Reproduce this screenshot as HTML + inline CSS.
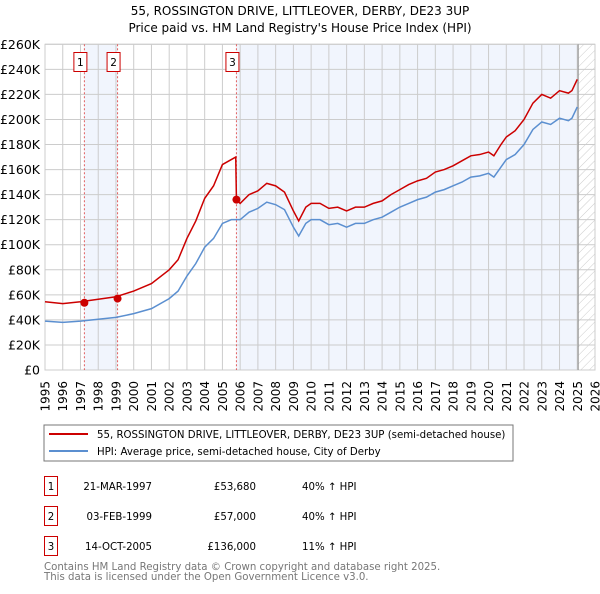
<!DOCTYPE html>
<html><head><meta charset="utf-8"><style>
body{margin:0;background:#fff;width:600px;height:590px;overflow:hidden;font-family:"DejaVu Sans","Liberation Sans",sans-serif}
text{font-family:"DejaVu Sans","Liberation Sans",sans-serif}
</style></head><body>
<svg id="c" width="600" height="590" xmlns="http://www.w3.org/2000/svg">
<defs><pattern id="hatch" width="6" height="6" patternUnits="userSpaceOnUse" patternTransform="rotate(45)"><line x1="0" y1="0" x2="0" y2="6" stroke="#ccc" stroke-width="1"/></pattern></defs>
<text x="300" y="15" text-anchor="middle" font-size="12">55, ROSSINGTON DRIVE, LITTLEOVER, DERBY, DE23 3UP</text>
<text x="300" y="32" text-anchor="middle" font-size="12">Price paid vs. HM Land Registry's House Price Index (HPI)</text>
<g id="plot"></g>
<rect x="44" y="425" width="469" height="36" fill="#fff" stroke="#777"/>
<line x1="49" y1="434" x2="88" y2="434" stroke="#cc0000" stroke-width="2"/>
<text x="97" y="438" font-size="10.2">55, ROSSINGTON DRIVE, LITTLEOVER, DERBY, DE23 3UP (semi-detached house)</text>
<line x1="49" y1="451" x2="88" y2="451" stroke="#5b8fd0" stroke-width="2"/>
<text x="97" y="455" font-size="10.2">HPI: Average price, semi-detached house, City of Derby</text>
<g font-size="10.2">
<rect x="44.5" y="476.5" width="13" height="19" fill="#fff" stroke="#cc0000"/><text x="51" y="490" text-anchor="middle">1</text>
<text x="152" y="490" text-anchor="end">21-MAR-1997</text><text x="256" y="490" text-anchor="end">£53,680</text><text x="302" y="490">40% ↑ HPI</text>
<rect x="44.5" y="506.5" width="13" height="19" fill="#fff" stroke="#cc0000"/><text x="51" y="520" text-anchor="middle">2</text>
<text x="152" y="520" text-anchor="end">03-FEB-1999</text><text x="256" y="520" text-anchor="end">£57,000</text><text x="302" y="520">40% ↑ HPI</text>
<rect x="44.5" y="536.5" width="13" height="19" fill="#fff" stroke="#cc0000"/><text x="51" y="550" text-anchor="middle">3</text>
<text x="152" y="550" text-anchor="end">14-OCT-2005</text><text x="256" y="550" text-anchor="end">£136,000</text><text x="302" y="550">11% ↑ HPI</text>
</g>
<text x="44" y="570" font-size="10.2" fill="#777">Contains HM Land Registry data © Crown copyright and database right 2025.</text>
<text x="44" y="580" font-size="10.2" fill="#777">This data is licensed under the Open Government Licence v3.0.</text>
</svg>
<script>
const hpiYears=[1995,1996,1997,1998,1999,2000,2001,2002,2002.5,2003,2003.5,2004,2004.5,2005,2005.5,2006,2006.5,2007,2007.5,2008,2008.5,2009,2009.3,2009.7,2010,2010.5,2011,2011.5,2012,2012.5,2013,2013.5,2014,2014.5,2015,2015.5,2016,2016.5,2017,2017.5,2018,2018.5,2019,2019.5,2020,2020.3,2020.7,2021,2021.5,2022,2022.5,2023,2023.5,2024,2024.5,2024.7,2025];
const hpiValues=[39,38,39,40.5,42,45,49,57,63,75,85,98,105,117,120,120,126,129,134,132,128,114,107,117,120,120,116,117,114,117,117,120,122,126,130,133,136,138,142,144,147,150,154,155,157,154,162,168,172,180,192,198,196,201,199,201,210];
const priceYears=[1995,1996,1997,1998,1999,2000,2001,2002,2002.5,2003,2003.5,2004,2004.5,2005,2005.5,2005.75,2005.79,2006,2006.5,2007,2007.5,2008,2008.5,2009,2009.3,2009.7,2010,2010.5,2011,2011.5,2012,2012.5,2013,2013.5,2014,2014.5,2015,2015.5,2016,2016.5,2017,2017.5,2018,2018.5,2019,2019.5,2020,2020.3,2020.7,2021,2021.5,2022,2022.5,2023,2023.5,2024,2024.5,2024.7,2025];
const priceValues=[54.5,53,54.5,56.5,58.5,63,69,80,88,105,119,137,147,164,168,170,136,133,140,143,149,147,142,127,119,130,133,133,129,130,127,130,130,133,135,140,144,148,151,153,158,160,163,167,171,172,174,171,180,186,191,200,213,220,217,223,221,223,232];
const saleYears=[1997.22,1999.09,2005.79];
const saleValues=[53.68,57,136];
const saleLabels=["1","2","3"];
const yTicks=[0,20,40,60,80,100,120,140,160,180,200,220,240,260];
const xTicks=[];for(let y=1995;y<=2026;y++)xTicks.push(y);

const X0=45,X1=595,Y0=370,Y1=44.3;
const xs=y=>X0+(y-1995)/31*(X1-X0);
const ys=v=>Y0-v/260*(Y0-Y1);
const NS="http://www.w3.org/2000/svg";
const g=document.getElementById('plot');
function mk(t,a){const e=document.createElementNS(NS,t);for(const k in a)e.setAttribute(k,a[k]);g.appendChild(e);return e;}
let e;
e=mk('rect',{x:xs(saleYears[0]),y:Y1,width:xs(saleYears[1])-xs(saleYears[0]),height:Y0-Y1,fill:'#eef3fc',opacity:0.8});


e=mk('rect',{x:xs(saleYears[2]),y:Y1,width:xs(2025.05)-xs(saleYears[2]),height:Y0-Y1,fill:'#eef3fc',opacity:0.8});


e=mk('rect',{x:xs(2025.05),y:Y1,width:X1-xs(2025.05),height:Y0-Y1,fill:'url(#hatch)'});


yTicks.forEach(v=>{
 e=mk('line',{x1:X0,x2:X1,y1:ys(v),y2:ys(v),stroke:'#ccc'});
 
 
 e=mk('text',{x:X0-5,y:ys(v)+4.5,'text-anchor':'end','font-size':12.5});
 e.textContent=v===0?'£0':'£'+v+'K';
 
 
});
xTicks.forEach(y=>{
 e=mk('line',{x1:xs(y),x2:xs(y),y1:Y1,y2:Y0,stroke:'#ccc'});
 
 
 const tx=xs(y)+4.5, ty=381;
 e=mk('text',{x:tx,y:ty,'text-anchor':'end','font-size':12,transform:'rotate(-90 '+tx+' '+ty+')'});
 e.textContent=y;
 
 
});
e=mk('rect',{x:X0,y:Y1,width:X1-X0,height:Y0-Y1,fill:'none',stroke:'#ccc'});


e=mk('line',{x1:xs(2025.05),x2:xs(2025.05),y1:Y1,y2:Y0,stroke:'#999','stroke-width':1.2});


saleYears.forEach((y,i)=>{
 e=mk('line',{x1:xs(y),x2:xs(y),y1:Y1,y2:Y0,stroke:'#e06060','stroke-dasharray':'2,2'});
 
 
});
e=mk('polyline',{points:hpiYears.map((y,i)=>xs(y)+','+ys(hpiValues[i])).join(' '),fill:'none',stroke:'#5b8fd0','stroke-width':1.5});


e=mk('polyline',{points:priceYears.map((y,i)=>xs(y)+','+ys(priceValues[i])).join(' '),fill:'none',stroke:'#cc0000','stroke-width':1.5});


saleYears.forEach((y,i)=>{
 e=mk('circle',{cx:xs(y),cy:ys(saleValues[i]),r:4,fill:'#cc0000'});
 
 
 const bx=xs(y)-11;
 e=mk('rect',{x:bx+0.5,y:52.5,width:13,height:19,fill:'#fff',stroke:'#cc0000'});
 
 
 e=mk('text',{x:bx+7,y:66,'text-anchor':'middle','font-size':10.5});
 e.textContent=saleLabels[i];
 
 
});
</script>
</body></html>
